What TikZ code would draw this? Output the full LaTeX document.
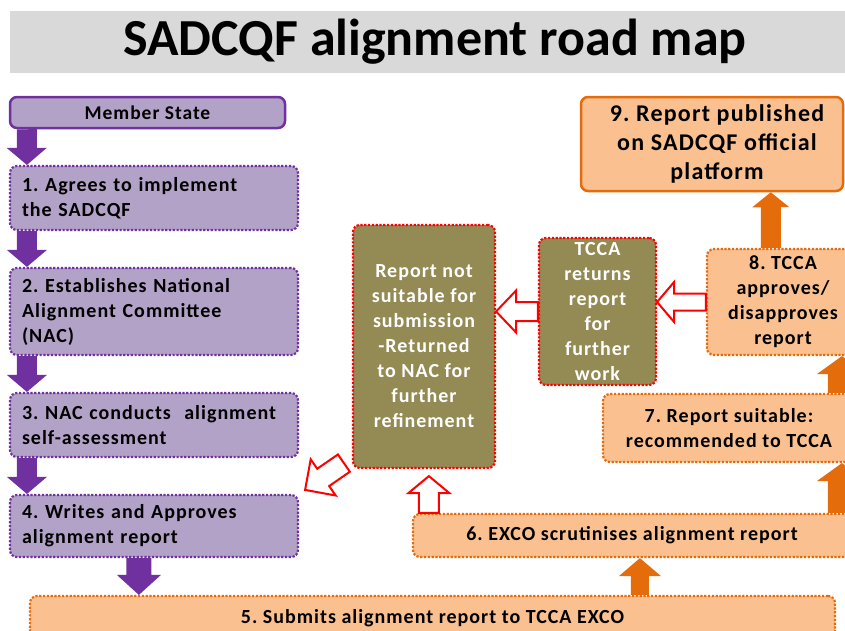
\documentclass[tikz,border=0pt]{standalone}
\usepackage{fontspec}
\setmainfont{Carlito}[LetterSpace=5]
\newfontfamily\titlefont{Carlito}
\usepackage{tikz}
\usetikzlibrary{calc}
\definecolor{purp}{HTML}{7030A0}
\definecolor{lav}{HTML}{B3A2C7}
\definecolor{orng}{HTML}{E46C0A}
\definecolor{peach}{HTML}{FAC090}
\definecolor{olive}{HTML}{948A54}
\definecolor{titlegray}{HTML}{D9D9D9}
% block arrow: style, from, to, shaft half width, head half width, head length
\newcommand{\tikzBlockArrow}[6]{
  \path (#2) coordinate (ba-a) (#3) coordinate (ba-b) ($(ba-b)!#6!(ba-a)$) coordinate (ba-h);
  \path[#1] ($(ba-a)!#4!90:(ba-b)$) -- ($(ba-h)!#4!90:(ba-b)$) -- ($(ba-h)!#5!90:(ba-b)$) -- (ba-b)
    -- ($(ba-h)!#5!-90:(ba-b)$) -- ($(ba-h)!#4!-90:(ba-b)$) -- ($(ba-a)!#4!-90:(ba-b)$) -- cycle;
}
\frenchspacing

\begin{document}
\begin{tikzpicture}[x=1pt, y=-1pt,
  box/.style={rounded corners=7pt, inner sep=0pt, font=\fontsize{20}{25}\selectfont\bfseries},
  dots/.style={line width=2.2pt, dash pattern=on 2.2pt off 1.6pt},
  purplebox/.style={box, dots, fill=lav, draw=purp, align=left, text width=264pt, minimum width=288pt},
  orangebox/.style={box, dots, fill=peach, draw=orng, align=center},
  olivebox/.style={box, dots, fill=olive, draw=red, text=white, align=center},
  purplearrow/.style={fill=purp},
  orangearrow/.style={fill=orng},
  redarrow/.style={draw=red, fill=white, line width=2pt}]
  \useasboundingbox (0,0) rectangle (845,630);
  \clip (0,0) rectangle (845,630);

  \node[box, fill=titlegray, rounded corners=0pt, minimum width=850pt, minimum height=62pt,
    font=\titlefont\fontsize{52}{60}\selectfont\bfseries] (title) at (435,42) {SADCQF alignment road map};

  % member state column
  \node[box, fill=lav, draw=purp, line width=2.5pt, minimum width=275pt, minimum height=31pt,
    font=\fontsize{19.5}{22}\selectfont\bfseries] (ms) at (147.5,112.5) {Member State};
  \node[purplebox, minimum height=64pt] (s1) at (154,198) {1. Agrees to implement\\the SADCQF};
  \node[purplebox, minimum height=87pt] (s2) at (154,311.5) {2. Establishes National\\Alignment Committee\\(NAC)};
  \node[purplebox, minimum height=64pt] (s3) at (154,425) {3. NAC conducts\ \ alignment\\self-assessment};
  \node[purplebox, minimum height=62pt] (s4) at (154,526) {4. Writes and Approves\\alignment report};

  % TCCA side
  \node[orangebox, minimum width=805pt, minimum height=44pt] (s5) at (432.5,618) {5. Submits alignment report to TCCA EXCO};
  \node[orangebox, minimum width=438pt, minimum height=43pt] (s6) at (632,535.5) {6. EXCO scrutinises\ alignment report};
  \node[orangebox, minimum width=252pt, minimum height=68pt] (s7) at (729,428) {7. Report suitable:\\recommended to TCCA};
  \node[orangebox, minimum width=152pt, minimum height=106pt] (s8) at (783,302) {8. TCCA\\approves/\\disapproves\\report};
  \node[box, fill=peach, draw=orng, line width=2.5pt, align=center, minimum width=262pt, minimum height=94pt,
    font=\fontsize{24}{29}\selectfont\bfseries] (s9) at (712,144) {\hspace*{10pt}9. Report published\\\hspace*{10pt}on SADCQF official\\\hspace*{10pt}platform};

  \node[olivebox, minimum width=142pt, minimum height=243pt] (ns) at (424,346.5)
    {Report not\\suitable for\\submission\\-Returned\\to NAC for\\further\\refinement};
  \node[olivebox, minimum width=117pt, minimum height=147pt] (tr) at (597.5,311.5)
    {TCCA\\returns\\report\\for\\further\\work};

  % forward arrows
  \tikzBlockArrow{purplearrow}{$(ms.south west)+(18,0)$}{$(s1.north west)+(18,0)$}{10pt}{20pt}{17pt}
  \tikzBlockArrow{purplearrow}{$(s1.south west)+(18,0)$}{$(s2.north west)+(18,0)$}{10pt}{20pt}{17pt}
  \tikzBlockArrow{purplearrow}{$(s2.south west)+(18,0)$}{$(s3.north west)+(18,0)$}{10pt}{20pt}{17pt}
  \tikzBlockArrow{purplearrow}{$(s3.south west)+(18,0)$}{$(s4.north west)+(18,0)$}{10pt}{20pt}{17pt}
  \tikzBlockArrow{purplearrow}{$(s4.south west)+(130,0)$}{$(s5.north west)+(110,0)$}{12.5pt}{22pt}{20pt}
  \tikzBlockArrow{orangearrow}{$(s5.north west)+(611,0)$}{$(s6.south west)+(228,0)$}{9pt}{21pt}{18pt}
  \tikzBlockArrow{orangearrow}{$(s6.north west)+(430,0)$}{$(s7.south west)+(240,0)$}{14pt}{25pt}{18pt}
  \tikzBlockArrow{orangearrow}{$(s7.north west)+(240,0)$}{$(s8.south west)+(136,0)$}{14pt}{25pt}{18pt}
  \tikzBlockArrow{orangearrow}{$(s8.north west)+(65,0)$}{$(s9.south west)+(191,0)$}{10pt}{18.5pt}{15pt}

  % return arrows
  \tikzBlockArrow{redarrow}{s8.west}{s8.west -| tr.east}{8.5pt}{20pt}{17pt}
  \tikzBlockArrow{redarrow}{tr.west}{tr.west -| ns.east}{9.5pt}{21pt}{20pt}
  \tikzBlockArrow{redarrow}{$(s6.north west)+(17,0)$}{$(ns.south west)+(77,7)$}{10pt}{20.5pt}{17pt}
  \tikzBlockArrow{redarrow}{$(ns.south west)+(-8,-6)$}{$(s4.north east)+(6,-4)$}{10.5pt}{22pt}{22pt}
\end{tikzpicture}
\end{document}
